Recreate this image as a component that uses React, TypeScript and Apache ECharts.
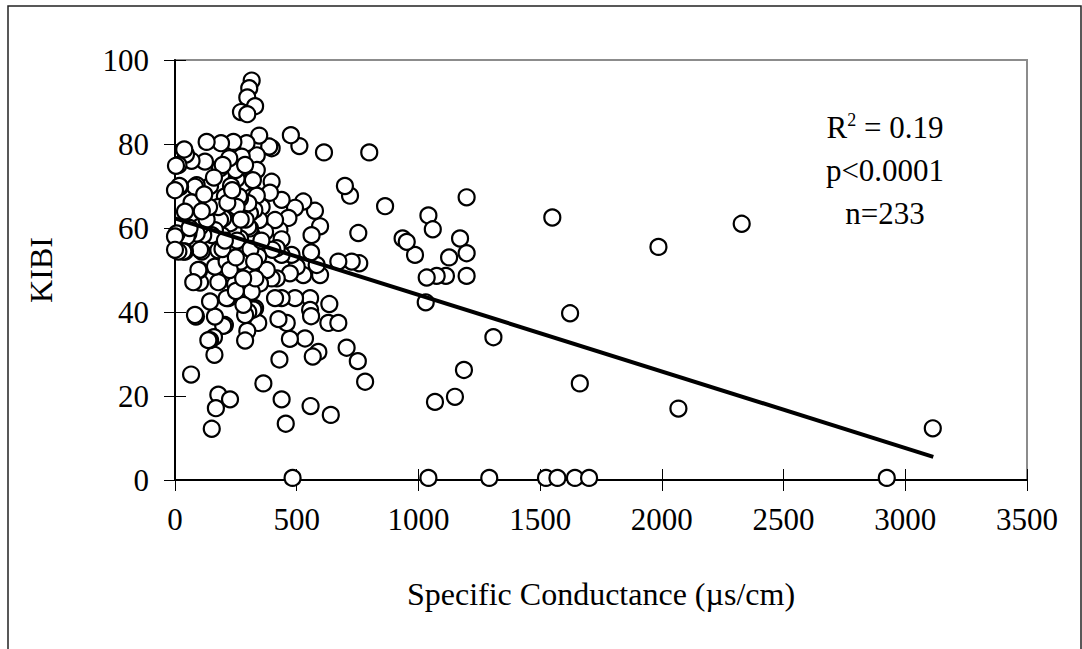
import React, { useEffect, useRef } from "react";
import * as echarts from "echarts";

// Specific conductance (µs/cm) values
const condValues: number[] = [
  3113, 2924, 2328, 1986, 2068, 1663, 1623, 1550, 1524, 1571,
  1643, 1701, 1291, 1041, 483, 1308, 1198, 1171, 1126, 1198,
  1113, 1198, 1075, 1034, 1030, 1187, 1150, 1068, 1041, 1059,
  986, 935, 952, 863, 798, 719, 698, 753, 757, 726,
  671, 705, 751, 781, 640, 634, 630, 671, 612, 589,
  566, 557, 596, 596, 582, 575, 561, 559, 555, 555,
  559, 527, 527, 500, 493, 493, 534, 472, 511, 476,
  466, 472, 479, 459, 455, 438, 429, 438, 429, 438,
  438, 438, 425, 418, 418, 411, 411, 397, 397, 390,
  397, 400, 387, 377, 370, 363, 356, 349, 346, 346,
  342, 342, 336, 336, 336, 329, 322, 326, 315, 315,
  308, 308, 301, 301, 301, 297, 288, 288, 288, 281,
  281, 281, 294, 274, 267, 267, 263, 253, 249, 247,
  240, 240, 240, 240, 233, 226, 223, 219, 212, 205,
  205, 198, 198, 192, 189, 185, 185, 178, 178, 178,
  178, 168, 226, 164, 164, 164, 162, 160, 151, 151,
  144, 144, 144, 137, 130, 123, 116, 110, 103, 103,
  103, 100, 96, 89, 89, 86, 82, 82, 75, 68,
  68, 66, 55, 48, 45, 41, 41, 38, 34, 21,
  18, 14, 14, 7, 4, 0, 0, 0,
  315, 305, 297, 329, 271, 297,
  288, 196, 263, 253, 230, 320, 212, 255, 130, 270,
  250, 215, 290, 140, 60, 120, 225, 195, 310, 330,
  355, 270, 235, 160, 205, 280, 110, 325, 250,
];

// KIBI values
const kibiValues: number[] = [
  12.3, 0.5, 61, 55.5, 17, 23, 39.7, 62.5, 0.5, 0.5,
  0.5, 0.5, 0.5, 0.5, 0.5, 34, 67.3, 57.5, 53, 54,
  48.6, 48.6, 48.6, 48.2, 42.3, 26.2, 19.8, 18.6, 63, 59.7,
  53.6, 57.5, 56.7, 65.2, 78, 67.7, 70, 58.8, 51.6, 52,
  52, 31.5, 28.3, 23.4, 15.5, 41.9, 37.4, 37.4, 78, 30.5,
  29.4, 17.6, 60.4, 48.8, 51.2, 64.1, 58.3, 54.2, 43.3, 40.5,
  39, 66.3, 48.8, 50.8, 64.8, 43.3, 33.7, 33.6, 79.5, 82.1,
  62.4, 49.2, 53.6, 37.4, 13.4, 19.2, 28.7, 66.7, 59.5, 57.3,
  53.6, 43.3, 38.3, 48, 55.2, 43.3, 61.9, 79, 71, 68.4,
  48, 54.8, 79.4, 50, 59.1, 23, 65, 46.8, 82, 61.9,
  53.2, 37.4, 77.3, 73.8, 67.7, 40.9, 40.6, 64.3, 58.3, 44.8,
  63.5, 59.9, 65.9, 60.3, 40, 35.5, 33.2, 39.3, 50.2, 55.3,
  41.7, 70.6, 80.2, 77, 67, 57.5, 73.8, 71.7, 73.8, 46.6,
  80.5, 62.7, 59.5, 51.6, 55.2, 61.1, 76.6, 43.3, 43.3, 67.5,
  36.9, 62.3, 36.7, 58.3, 80.2, 74.2, 61.9, 65, 54.7, 47.1,
  20.3, 17.1, 19.2, 59.5, 50.8, 38.9, 29.8, 34, 12.2, 58.3,
  70, 42.5, 33.3, 33.3, 80.5, 75.8, 58.3, 54.4, 60.3, 54.8,
  47, 50, 50, 70.2, 58.7, 38.9, 69.8, 39.3, 47.1, 76,
  66.1, 25.1, 58.7, 57.9, 77.5, 63.9, 54.4, 78.7, 54.4, 69.8,
  70, 75, 54.4, 58.7, 74.8, 69, 58, 54.8,
  95.1, 93.3, 91.1, 89, 87.6, 87.1,
  75, 75, 67.5, 65, 70, 71.4, 52, 57, 62, 52,
  45, 66, 62, 65, 60, 68, 50, 55, 55, 48,
  57, 62, 69, 72, 57, 48, 64, 52, 53,
];

// Regression line
const trendIntercept = 62.3;
const trendSlope = -0.01823;
const trendRange: number[] = [0, 3115];

const xTicks = { min: 0, max: 3500, interval: 500 };
const yTicks = { min: 0, max: 100, interval: 20 };

const statsLines: string[] = ["R{sup|2}{b| = 0.19}", "p<0.0001", "n=233"];

const FONT = "Liberation Serif";

export default function App() {
  const ref = useRef<HTMLDivElement>(null);

  useEffect(() => {
    if (!ref.current) return;
    const chart = echarts.init(ref.current, null, { renderer: "svg" });

    const points = condValues.map((x, i) => [x, kibiValues[i]]);
    const trend = trendRange.map((x) => [x, trendIntercept + trendSlope * x]);

    const labelStyle = {
      color: "#000",
      fontFamily: FONT,
      fontSize: 31,
      formatter: (v: number) => String(v),
    };

    const option: any = {
      animation: false,
      backgroundColor: "#fff",
      grid: {
        left: 175,
        right: 55,
        top: 60,
        bottom: 169,
        show: true,
        borderColor: "#8c8c8c",
        borderWidth: 2,
        backgroundColor: "transparent",
      },
      xAxis: [
        {
          type: "value",
          min: xTicks.min,
          max: xTicks.max,
          interval: xTicks.interval,
          splitLine: { show: false },
          axisLine: { show: true, onZero: false, lineStyle: { color: "#000", width: 2 } },
          axisTick: { show: true, inside: false, length: 11, lineStyle: { color: "#000", width: 1 } },
          axisLabel: { ...labelStyle, margin: 24 },
          name: "Specific Conductance (µs/cm)",
          nameLocation: "middle",
          nameGap: 98,
          nameTextStyle: { color: "#000", fontFamily: FONT, fontSize: 32 },
        },
        {
          type: "value",
          position: "bottom",
          min: xTicks.min,
          max: xTicks.max,
          interval: xTicks.interval,
          splitLine: { show: false },
          axisLine: { show: false },
          axisTick: { show: true, inside: true, length: 11, lineStyle: { color: "#000", width: 1 } },
          axisLabel: { show: false },
        },
      ],
      yAxis: [
        {
          type: "value",
          min: yTicks.min,
          max: yTicks.max,
          interval: yTicks.interval,
          splitLine: { show: false },
          axisLine: { show: true, onZero: false, lineStyle: { color: "#000", width: 2 } },
          axisTick: { show: true, inside: false, length: 11, lineStyle: { color: "#000", width: 1 } },
          axisLabel: { ...labelStyle, margin: 26 },
          name: "KIBI",
          nameLocation: "middle",
          nameGap: 118,
          nameRotate: 90,
          nameTextStyle: { color: "#000", fontFamily: FONT, fontSize: 32 },
        },
        {
          type: "value",
          position: "left",
          min: yTicks.min,
          max: yTicks.max,
          interval: yTicks.interval,
          splitLine: { show: false },
          axisLine: { show: false },
          axisTick: { show: true, inside: true, length: 11, lineStyle: { color: "#000", width: 1 } },
          axisLabel: { show: false },
        },
      ],
      series: [
        {
          type: "scatter",
          data: points,
          symbol: "circle",
          symbolSize: 16,
          clip: false,
          itemStyle: { color: "#fff", borderColor: "#000", borderWidth: 2.2, opacity: 1 },
          z: 2,
        },
        {
          type: "line",
          data: trend,
          symbol: "none",
          clip: false,
          lineStyle: { color: "#000", width: 4 },
          z: 3,
        },
      ],
      graphic: [
        {
          type: "rect",
          silent: true,
          shape: { x: 8, y: 6, width: 1073, height: 700 },
          style: { fill: "none", stroke: "#222", lineWidth: 1.5 },
          z: 0,
        },
        ...statsLines.map((t, i) => ({
          type: "text",
          x: 885,
          y: 127 + i * 43,
          z: 10,
          style: {
            text: t,
            textAlign: "center",
            textVerticalAlign: "middle",
            fill: "#000",
            font: `31px "${FONT}"`,
            fontFamily: FONT,
            fontSize: 31,
            rich: {
              sup: { fontSize: 18, fontFamily: FONT, fill: "#000", verticalAlign: "top", padding: [0, 0, 14, 0] },
              b: { fontSize: 31, fontFamily: FONT, fill: "#000" },
            },
          },
        })),
      ],
    };

    chart.setOption(option);
    return () => chart.dispose();
  }, []);

  return (
    <div
      ref={ref}
      style={{ position: "fixed", left: 0, top: 0, width: 1082, height: 649, background: "#fff" }}
    />
  );
}
